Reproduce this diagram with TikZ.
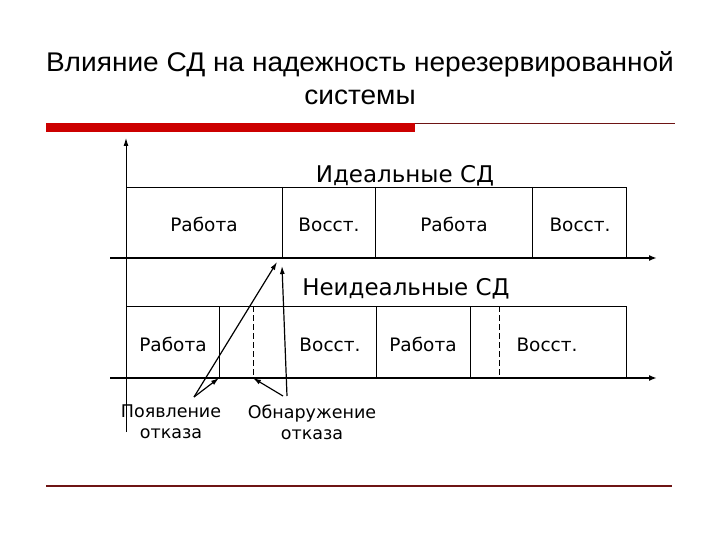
\documentclass[tikz,border=0pt]{standalone}
\usepackage{fontspec}
\setmainfont{Liberation Sans}
\newfontfamily\djv{DejaVu Sans}
\usetikzlibrary{arrows.meta}
\definecolor{barred}{RGB}{204,0,0}
\definecolor{linered}{RGB}{110,20,20}
\begin{document}
\begin{tikzpicture}[x=1pt,y=-1pt,
  axisline/.style={line width=2.2pt,-{Latex[length=8pt,width=6pt]}},
  boxline/.style={line width=0.9pt},
  dashline/.style={line width=0.9pt,dash pattern=on 6pt off 3pt},
  ptr/.style={line width=1.2pt,-{Latex[length=8pt,width=5pt]}},
  seg/.style={font=\djv\fontsize{18.5}{20}\selectfont,inner sep=0pt,text height=14pt,text depth=4pt},
  head/.style={font=\djv\fontsize{23}{25}\selectfont,inner sep=0pt},
  lab/.style={font=\djv\fontsize{17.5}{21}\selectfont,align=center,inner sep=0pt},
  ttl/.style={font=\fontsize{27}{30}\selectfont,inner sep=0pt,xscale=1.04}]
\useasboundingbox (0,0) rectangle (720,540);
\fill[white] (0,0) rectangle (720,540);
% title
\node[ttl] (t1) at (360,64) {Влияние СД на надежность нерезервированной};
\node[ttl] (t2) at (360,97) {системы};
% decorative rules
\fill[barred] (46,123) rectangle (415,132);
\draw[linered,line width=1pt] (415,124) -- (675,124);
\draw[linered,line width=1.2pt] (46,486) -- (672,486);
% axes
\draw[line width=0.9pt,-{Latex[length=8pt,width=5pt]}] (126,432) -- (126,138);
\draw[axisline] (110,258) -- (657,258);
\draw[axisline] (110,378) -- (657,378);
% ideal boxes
\draw[boxline] (126,258) |- (626,187) -- (626,258);
\foreach \x in {282,375,532} \draw[boxline] (\x,187) -- (\x,258);
\node[head] (ideal) at (405,176) {Идеальные СД};
\node[seg] (w1) at (204,227) {Работа};
\node[seg] (r1) at (329,227) {Восст.};
\node[seg] (w2) at (454,227) {Работа};
\node[seg] (r2) at (580,227) {Восст.};
% non-ideal boxes
\draw[boxline] (126,378) |- (626,306) -- (626,378);
\foreach \x in {219,376,470} \draw[boxline] (\x,306) -- (\x,378);
\foreach \x in {253,499} \draw[dashline] (\x,306) -- (\x,378);
\node[head] (nonideal) at (406,289) {Неидеальные СД};
\node[seg] (w3) at (173,346) {Работа};
\node[seg] (r3) at (330,346) {Восст.};
\node[seg] (w4) at (423,346) {Работа};
\node[seg] (r4) at (547,346) {Восст.};
% labels and pointers
\node[lab] (pov) at (171,422) {Появление\\отказа};
\node[lab] (obn) at (312,422) {Обнаружение\\отказа};
\coordinate (ps) at (194,397);
\coordinate (os1) at (283,396);
\coordinate (os2) at (287,396);
\coordinate (f1) at (219,378);
\coordinate (f2) at (277,262);
\coordinate (d1) at (253,378);
\coordinate (d2) at (282,266);
\draw[ptr] (ps) -- (f1);
\draw[ptr] (ps) -- (f2);
\draw[ptr] (os1) -- (d1);
\draw[ptr] (os2) -- (d2);
\end{tikzpicture}
\end{document}
